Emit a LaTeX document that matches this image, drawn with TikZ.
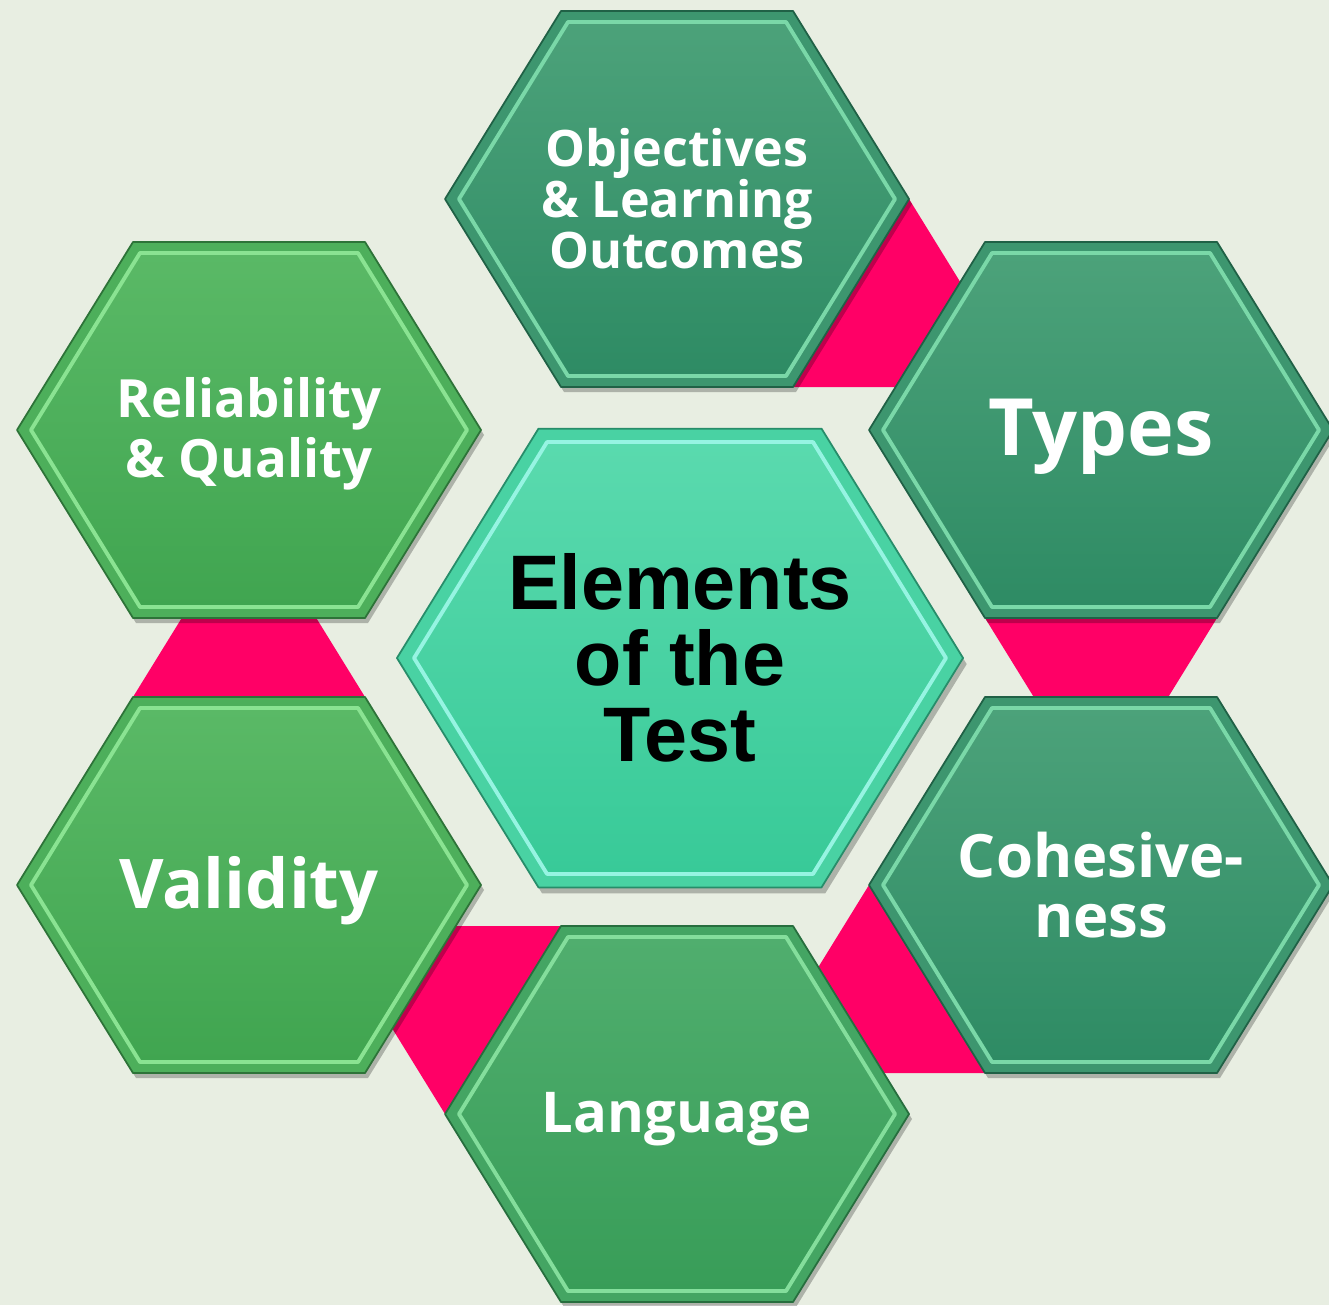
\documentclass[tikz,border=0pt]{standalone}
\usepackage{fontspec}
\setmainfont{Open Sans}
\newfontfamily\arialfont{Liberation Sans}
\definecolor{bgpage}{HTML}{E8EEE2}
\definecolor{linkpink}{HTML}{FF0066}
\definecolor{tealtop}{HTML}{4CA27A}
\definecolor{tealbot}{HTML}{2E8B64}
\definecolor{tealrim}{HTML}{7AD8A8}
\definecolor{leaftop}{HTML}{5AB966}
\definecolor{leafbot}{HTML}{40A550}
\definecolor{leafrim}{HTML}{8AE392}
\definecolor{langtop}{HTML}{50AE6E}
\definecolor{langbot}{HTML}{389D58}
\definecolor{langrim}{HTML}{84DE9C}
\definecolor{mintop}{HTML}{5ADAAE}
\definecolor{minbot}{HTML}{38CA98}
\definecolor{minrim}{HTML}{96F4E2}

\begin{document}
\begin{tikzpicture}[line join=round,every node/.style={inner sep=0pt}]
	\tikzset{hexlabel/.style={text=white,align=center},
		link/.style={fill=linkpink},
		pics/hexcell/.style n args={3}{code={
				\fill[black,opacity=0.25] (-2.29,-0.05) -- (-1.13,1.83) -- (1.19,1.83) -- (2.35,-0.05) -- (1.19,-1.93) -- (-1.13,-1.93) -- cycle;
				\filldraw[fill=#1!50!#2,draw=#2!70!black,line width=0.5pt] (-2.32,0) -- (-1.16,1.88) -- (1.16,1.88) -- (2.32,0) -- (1.16,-1.88) -- (-1.16,-1.88) -- cycle;
				\shadedraw[top color=#1,bottom color=#2,draw=#3,line width=1.1pt] (-2.18,0) -- (-1.09,1.77) -- (1.09,1.77) -- (2.18,0) -- (1.09,-1.77) -- (-1.09,-1.77) -- cycle;}}}
	\fill[bgpage] (0,0) rectangle (13.29,-13.05);
	\useasboundingbox (0,0) rectangle (13.29,-13.05);
	\coordinate (obj) at (6.77,-1.99);
	\coordinate (typ) at (11.01,-4.30);
	\coordinate (coh) at (11.01,-8.85);
	\coordinate (lan) at (6.77,-11.14);
	\coordinate (val) at (2.49,-8.85);
	\coordinate (rel) at (2.49,-4.30);
	\coordinate (ctr) at (6.80,-6.58);
	% pink links, each hidden partly under the next cell
	\fill[link,shift={(obj)}] (2.32,0) -- (1.16,-1.88) -- (3.48,-1.88) -- cycle;
	\fill[link,shift={(typ)}] (-1.16,-1.88) -- (1.16,-1.88) -- (0,-3.76) -- cycle;
	\fill[link,shift={(coh)}] (-2.32,0) -- (-1.16,-1.88) -- (-3.48,-1.88) -- cycle;
	\fill[link,shift={(lan)}] (-2.32,0) -- (-1.16,1.88) -- (-3.48,1.88) -- cycle;
	\fill[link,shift={(val)}] (-1.16,1.88) -- (1.16,1.88) -- (0,3.76) -- cycle;
	% cells
	\pic at (obj) {hexcell={tealtop}{tealbot}{tealrim}};
	\pic at (typ) {hexcell={tealtop}{tealbot}{tealrim}};
	\pic at (coh) {hexcell={tealtop}{tealbot}{tealrim}};
	\pic at (lan) {hexcell={langtop}{langbot}{langrim}};
	\pic at (val) {hexcell={leaftop}{leafbot}{leafrim}};
	\pic at (rel) {hexcell={leaftop}{leafbot}{leafrim}};
	\pic[scale=1.22] at (ctr) {hexcell={mintop}{minbot}{minrim}};
	% labels
	\node[hexlabel,font=\bfseries\fontsize{14.3}{14.5}\selectfont] (objectives) at (obj) {Objectives\\\& Learning\\Outcomes};
	\node[hexlabel,font=\bfseries\fontsize{22.5}{24}\selectfont,yshift=-0.07cm] (types) at (typ) {Types};
	\node[hexlabel,font=\bfseries\fontsize{17}{17}\selectfont] (cohesion) at (coh) {Cohesive-\\ness};
	\node[hexlabel,font=\bfseries\fontsize{16}{18}\selectfont,yshift=-0.05cm] (language) at (lan) {Language};
	\node[hexlabel,font=\bfseries\fontsize{19.5}{21}\selectfont,yshift=-0.06cm] (validity) at (val) {Validity};
	\node[hexlabel,font=\bfseries\fontsize{15}{17}\selectfont,yshift=-0.04cm] (reliability) at (rel) {Reliability\\\& Quality};
	\node[align=center,font=\arialfont\bfseries\fontsize{22}{21.6}\selectfont] (elements) at (ctr) {Elements\\of the\\Test};
\end{tikzpicture}
\end{document}
